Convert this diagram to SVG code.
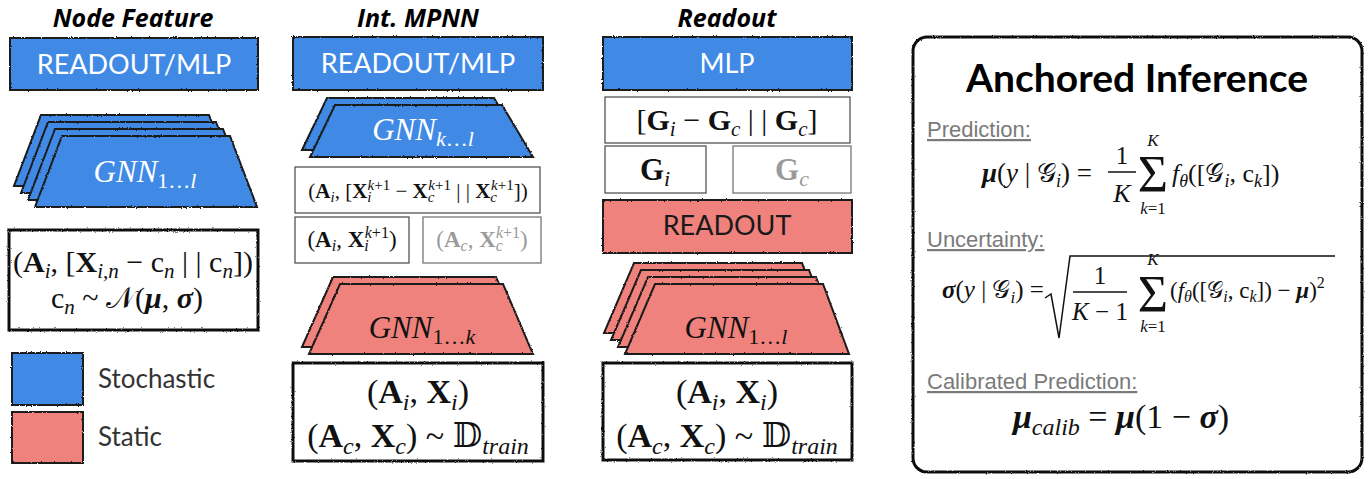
<svg xmlns="http://www.w3.org/2000/svg" width="1370" height="479" viewBox="0 0 1370 479">
<defs>
<style>
.m{font-family:"Liberation Serif","DejaVu Serif",serif;fill:#111}
.b{font-weight:bold}
.i{font-style:italic}
.sc{font-family:"DejaVu Serif","DejaVu Sans","Noto Sans",serif;font-style:normal;font-weight:normal}
.ttl{font-family:"Open Sans","Liberation Sans",sans-serif;font-weight:bold;font-style:italic;font-size:25px;text-anchor:middle;fill:#000}
.lbl{font-family:Lato,"Open Sans",sans-serif;font-size:27px;fill:#fff;text-anchor:middle}
.blue{fill:#3F8AE6;stroke:#1a1a1a;stroke-width:2}
.red{fill:#EF827C;stroke:#1a1a1a;stroke-width:2}
.thick{fill:#fff;stroke:#111;stroke-width:3}
.thin{fill:#fff;stroke:#555;stroke-width:1.3}
.gthin{fill:#fff;stroke:#777;stroke-width:1.3}
.cap{font-family:"Liberation Sans",Arial,sans-serif;font-size:22px;fill:#7a7a7a;text-decoration:underline}
.leg{font-family:Lato,"Open Sans",sans-serif;font-size:26px;fill:#333}
.ln{stroke:#111;stroke-width:1.5;fill:none}
</style>
<filter id="sk" x="-5%" y="-5%" width="110%" height="110%">
<feTurbulence type="fractalNoise" baseFrequency="0.8" numOctaves="2" seed="3"/>
<feDisplacementMap in="SourceGraphic" scale="2.2" xChannelSelector="R" yChannelSelector="G"/>
</filter>
</defs>
<rect width="1370" height="479" fill="#fff"/>

<!-- Column 1: Node Feature -->
<g id="col-node-feature">
<text class="ttl" x="133" y="27">Node Feature</text>
</g>
<g id="nf-readout-mlp">
<rect class="blue" x="10" y="38" width="248" height="52" filter="url(#sk)"/>
<text class="lbl" x="134" y="74">READOUT/MLP</text>
</g>
<g id="nf-gnn">
<g filter="url(#sk)">
<polygon class="blue" points="41,115 209,115 236,186 14,186"/>
<polygon class="blue" points="48,122 216,122 243,193 21,193"/>
<polygon class="blue" points="55,129 223,129 250,200 28,200"/>
<polygon class="blue" points="62,136 230,136 257,207 35,207"/>
</g>
<text class="m" x="145" y="182" font-size="31" text-anchor="middle" style="fill:#fff"><tspan class="i">GNN</tspan><tspan font-size="22" dy="6">1…<tspan class="i">l</tspan></tspan></text>
</g>
<g id="nf-input">
<rect class="thick" x="9" y="230" width="249" height="100" filter="url(#sk)"/>
<text class="m" x="133" y="272" font-size="30" text-anchor="middle">(<tspan class="b">A</tspan><tspan class="i" font-size="21" dy="6">i</tspan><tspan dy="-6">, [</tspan><tspan class="b">X</tspan><tspan class="i" font-size="21" dy="6">i,n</tspan><tspan dy="-6"> − c</tspan><tspan class="i" font-size="21" dy="6">n</tspan><tspan dy="-6"> | | c</tspan><tspan class="i" font-size="21" dy="6">n</tspan><tspan dy="-6">])</tspan></text>
<text class="m" x="127" y="308" font-size="30" text-anchor="middle">c<tspan class="i" font-size="21" dy="6">n</tspan><tspan dy="-6"> ~ </tspan><tspan class="sc">𝒩</tspan>(<tspan class="b i">μ</tspan>, <tspan class="b i">σ</tspan>)</text>
</g>
<g id="legend">
<rect class="blue" x="12" y="353" width="71" height="52" filter="url(#sk)"/>
<rect class="red" x="12" y="412" width="71" height="51" filter="url(#sk)"/>
<text class="leg" x="98" y="388">Stochastic</text>
<text class="leg" x="98" y="446">Static</text>
</g>

<!-- Column 2: Int. MPNN -->
<g id="col-int-mpnn">
<text class="ttl" x="418" y="27">Int. MPNN</text>
</g>
<g id="im-readout-mlp">
<rect class="blue" x="293" y="37" width="250" height="53" filter="url(#sk)"/>
<text class="lbl" x="418" y="73">READOUT/MLP</text>
</g>
<g id="im-gnn-kl">
<g filter="url(#sk)">
<polygon class="blue" points="327,98 494,98 525,150 302,150"/>
<polygon class="blue" points="335,105 502,105 533,157 310,157"/>
</g>
<text class="m" x="423" y="140" font-size="31" text-anchor="middle" style="fill:#fff"><tspan class="i">GNN</tspan><tspan font-size="22" dy="6"><tspan class="i">k</tspan>…<tspan class="i">l</tspan></tspan></text>
</g>
<g id="im-concat">
<rect class="thin" x="295" y="167" width="245" height="46"/>
<text class="m" x="418" y="198" font-size="21" text-anchor="middle">(<tspan class="b">A</tspan><tspan class="i" font-size="15" dy="4">i</tspan><tspan dy="-4">, [</tspan><tspan class="b">X</tspan><tspan class="i" font-size="15" dy="4">i</tspan><tspan font-size="15" dx="-4" dy="-12"><tspan class="i">k</tspan>+1</tspan><tspan dy="8"> − </tspan><tspan class="b">X</tspan><tspan class="i" font-size="15" dy="4">c</tspan><tspan font-size="15" dx="-6" dy="-12"><tspan class="i">k</tspan>+1</tspan><tspan dy="8"> | | </tspan><tspan class="b">X</tspan><tspan class="i" font-size="15" dy="4">c</tspan><tspan font-size="15" dx="-6" dy="-12"><tspan class="i">k</tspan>+1</tspan><tspan dy="8">])</tspan></text>
</g>
<g id="im-query">
<rect class="thin" x="295" y="217" width="114" height="46"/>
<text class="m" x="352" y="247" font-size="23" text-anchor="middle">(<tspan class="b">A</tspan><tspan class="i" font-size="16" dy="4">i</tspan><tspan dy="-4">, </tspan><tspan class="b">X</tspan><tspan class="i" font-size="16" dy="4">i</tspan><tspan font-size="16" dx="-4" dy="-13"><tspan class="i">k</tspan>+1</tspan><tspan dy="9">)</tspan></text>
</g>
<g id="im-anchor">
<rect class="gthin" x="423" y="217" width="118" height="46"/>
<text class="m" x="482" y="247" font-size="23" text-anchor="middle" style="fill:#9a9a9a">(<tspan class="b">A</tspan><tspan class="i" font-size="16" dy="4">c</tspan><tspan dy="-4">, </tspan><tspan class="b">X</tspan><tspan class="i" font-size="16" dy="4">c</tspan><tspan font-size="16" dx="-7" dy="-13"><tspan class="i">k</tspan>+1</tspan><tspan dy="9">)</tspan></text>
</g>
<g id="im-gnn-1k">
<g filter="url(#sk)">
<polygon class="red" points="333,277 496,277 526,347 302,347"/>
<polygon class="red" points="340,284 503,284 533,354 309,354"/>
</g>
<text class="m" x="422" y="338" font-size="31" text-anchor="middle"><tspan class="i">GNN</tspan><tspan font-size="22" dy="6">1…<tspan class="i">k</tspan></tspan></text>
</g>
<g id="im-input">
<rect class="thick" x="293" y="363" width="250" height="98" filter="url(#sk)"/>
<text class="m" x="418" y="403" font-size="34" text-anchor="middle">(<tspan class="b">A</tspan><tspan class="i" font-size="24" dy="7">i</tspan><tspan dy="-7">, </tspan><tspan class="b">X</tspan><tspan class="i" font-size="24" dy="7">i</tspan><tspan dy="-7">)</tspan></text>
<text class="m" x="418" y="447" font-size="34" text-anchor="middle">(<tspan class="b">A</tspan><tspan class="i" font-size="24" dy="7">c</tspan><tspan dy="-7">, </tspan><tspan class="b">X</tspan><tspan class="i" font-size="24" dy="7">c</tspan><tspan dy="-7">) ~ </tspan><tspan class="sc">𝔻</tspan><tspan class="i" font-size="24" dy="7">train</tspan></text>
</g>

<!-- Column 3: Readout -->
<g id="col-readout">
<text class="ttl" x="727" y="27">Readout</text>
</g>
<g id="ro-mlp">
<rect class="blue" x="603" y="37" width="249" height="53" filter="url(#sk)"/>
<text class="lbl" x="727" y="73">MLP</text>
</g>
<g id="ro-concat">
<rect class="thin" x="605" y="97" width="245" height="46"/>
<text class="m" x="727" y="130" font-size="30" text-anchor="middle">[<tspan class="b">G</tspan><tspan class="i" font-size="21" dy="6">i</tspan><tspan dy="-6"> − </tspan><tspan class="b">G</tspan><tspan class="i" font-size="21" dy="6">c</tspan><tspan dy="-6"> | | </tspan><tspan class="b">G</tspan><tspan class="i" font-size="21" dy="6">c</tspan><tspan dy="-6">]</tspan></text>
</g>
<g id="ro-gi">
<rect class="thin" x="605" y="146" width="101" height="47"/>
<text class="m" x="655" y="180" font-size="31" text-anchor="middle"><tspan class="b">G</tspan><tspan class="i" font-size="22" dy="6">i</tspan></text>
</g>
<g id="ro-gc">
<rect class="gthin" x="733" y="146" width="118" height="47"/>
<text class="m" x="792" y="180" font-size="31" text-anchor="middle" style="fill:#9a9a9a"><tspan class="b">G</tspan><tspan class="i" font-size="22" dy="6">c</tspan></text>
</g>
<g id="ro-readout">
<rect class="red" x="603" y="200" width="249" height="53" filter="url(#sk)"/>
<text class="lbl" x="727" y="235" style="fill:#1a1a1a">READOUT</text>
</g>
<g id="ro-gnn">
<g filter="url(#sk)">
<polygon class="red" points="634,263 802,263 828,333 604,333"/>
<polygon class="red" points="641,270 809,270 835,340 611,340"/>
<polygon class="red" points="648,277 816,277 842,347 618,347"/>
<polygon class="red" points="655,284 823,284 849,354 625,354"/>
</g>
<text class="m" x="736" y="338" font-size="31" text-anchor="middle"><tspan class="i">GNN</tspan><tspan font-size="22" dy="6">1…<tspan class="i">l</tspan></tspan></text>
</g>
<g id="ro-input">
<rect class="thick" x="603" y="363" width="249" height="97" filter="url(#sk)"/>
<text class="m" x="727" y="403" font-size="34" text-anchor="middle">(<tspan class="b">A</tspan><tspan class="i" font-size="24" dy="7">i</tspan><tspan dy="-7">, </tspan><tspan class="b">X</tspan><tspan class="i" font-size="24" dy="7">i</tspan><tspan dy="-7">)</tspan></text>
<text class="m" x="727" y="447" font-size="34" text-anchor="middle">(<tspan class="b">A</tspan><tspan class="i" font-size="24" dy="7">c</tspan><tspan dy="-7">, </tspan><tspan class="b">X</tspan><tspan class="i" font-size="24" dy="7">c</tspan><tspan dy="-7">) ~ </tspan><tspan class="sc">𝔻</tspan><tspan class="i" font-size="24" dy="7">train</tspan></text>
</g>

<!-- Anchored Inference panel -->
<g id="anchored-inference">
<rect x="913" y="37" width="449" height="435" rx="14" fill="#fff" stroke="#111" stroke-width="3" filter="url(#sk)"/>
<text x="1137" y="92" font-family="Lato,'Open Sans',sans-serif" font-weight="bold" font-size="39" text-anchor="middle" fill="#000">Anchored Inference</text>

<text class="cap" x="927" y="137">Prediction:</text>
<text class="m" x="982" y="182" font-size="27"><tspan class="b i">μ</tspan>(<tspan class="i">y</tspan> | <tspan class="sc">𝒢</tspan><tspan class="i" font-size="18" dy="5">i</tspan><tspan dy="-5">) =</tspan></text>
<text class="m" x="1122" y="164" font-size="25" text-anchor="middle">1</text>
<line class="ln" x1="1108" y1="172" x2="1136" y2="172"/>
<text class="m i" x="1122" y="202" font-size="26" text-anchor="middle">K</text>
<text class="m i" x="1153" y="146" font-size="17" text-anchor="middle">K</text>
<text class="m" x="1153" y="192" font-size="52" text-anchor="middle">Σ</text>
<text class="m" x="1153" y="214" font-size="17" text-anchor="middle"><tspan class="i">k</tspan>=1</text>
<text class="m" x="1172" y="182" font-size="26"><tspan class="i">f</tspan><tspan class="i" font-size="18" dy="5">θ</tspan><tspan dy="-5">([</tspan><tspan class="sc">𝒢</tspan><tspan class="i" font-size="18" dy="5">i</tspan><tspan dy="-5">, c</tspan><tspan class="i" font-size="18" dy="5">k</tspan><tspan dy="-5">])</tspan></text>

<text class="cap" x="927" y="247">Uncertainty:</text>
<text class="m" x="942" y="298" font-size="25"><tspan class="b i">σ</tspan>(<tspan class="i">y</tspan> | <tspan class="sc">𝒢</tspan><tspan class="i" font-size="17" dy="5">i</tspan><tspan dy="-5">) =</tspan></text>
<path class="ln" d="M1045,298 L1051,294 L1059,338 L1070,256 L1335,256"/>
<text class="m" x="1100" y="284" font-size="25" text-anchor="middle">1</text>
<line class="ln" x1="1073" y1="292" x2="1127" y2="292"/>
<text class="m" x="1100" y="320" font-size="25" text-anchor="middle"><tspan class="i">K</tspan> − 1</text>
<text class="m i" x="1153" y="265" font-size="17" text-anchor="middle">K</text>
<text class="m" x="1153" y="312" font-size="52" text-anchor="middle">Σ</text>
<text class="m" x="1153" y="332" font-size="17" text-anchor="middle"><tspan class="i">k</tspan>=1</text>
<text class="m" x="1170" y="298" font-size="23">(<tspan class="i">f</tspan><tspan class="i" font-size="16" dy="4">θ</tspan><tspan dy="-4">([</tspan><tspan class="sc">𝒢</tspan><tspan class="i" font-size="16" dy="4">i</tspan><tspan dy="-4">, c</tspan><tspan class="i" font-size="16" dy="4">k</tspan><tspan dy="-4">]) − </tspan><tspan class="b i">μ</tspan>)<tspan font-size="16" dy="-10">2</tspan></text>

<text class="cap" x="927" y="389">Calibrated Prediction:</text>
<text class="m" x="1121" y="428" font-size="34" text-anchor="middle"><tspan class="b i">μ</tspan><tspan class="i" font-size="24" dy="7">calib</tspan><tspan dy="-7"> = </tspan><tspan class="b i">μ</tspan>(1 − <tspan class="b i">σ</tspan>)</text>
</g>

<g id="connectors"/>
</svg>
